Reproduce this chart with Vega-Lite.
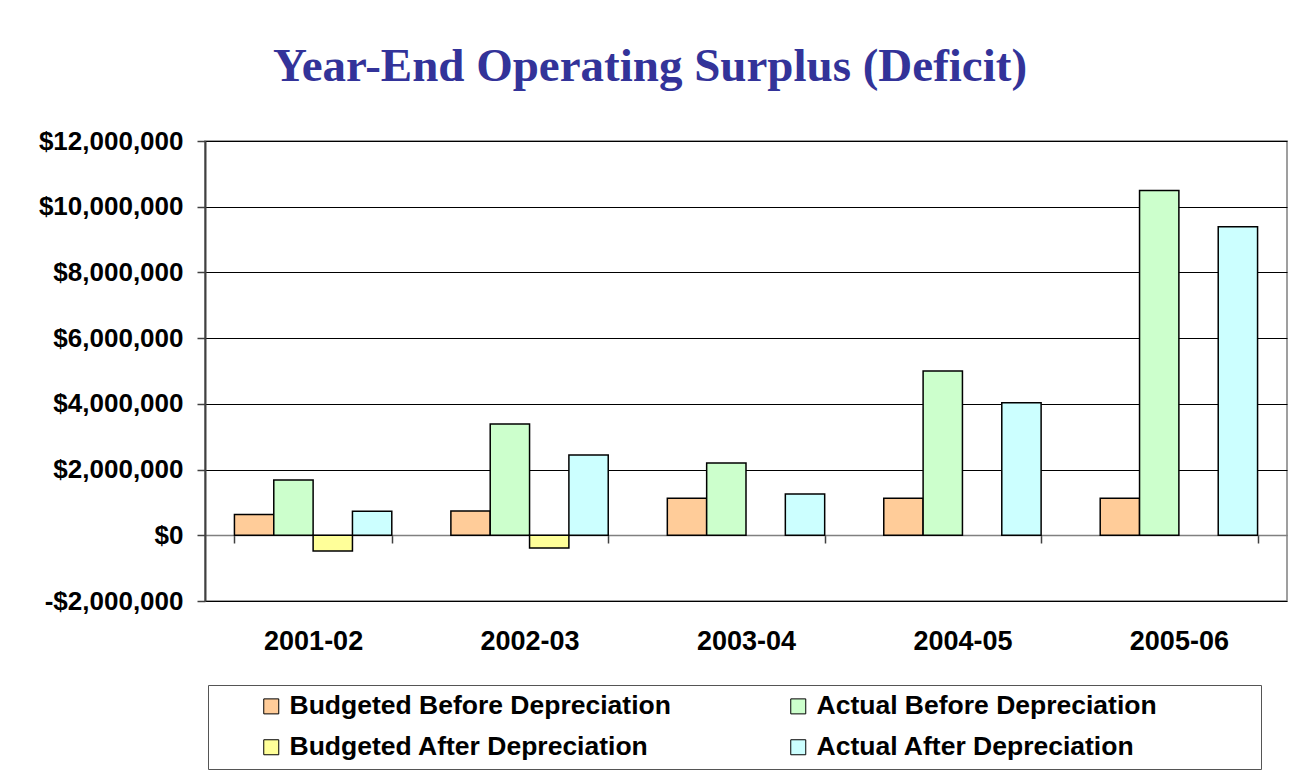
{
  "$schema": "https://vega.github.io/schema/vega-lite/v6.json",
  "width": 1082,
  "height": 460,
  "autosize": {"type": "none"},
  "padding": {"left": 205, "top": 141, "right": 2, "bottom": 180},
  "background": "white",
  "title": {
    "text": "Year-End Operating Surplus (Deficit)",
    "font": "Liberation Serif",
    "fontSize": 47,
    "fontWeight": "bold",
    "color": "#333399",
    "anchor": "middle",
    "frame": "group",
    "dx": -96,
    "offset": 0,
    "baseline": "alphabetic"
  },
  "data": {
    "values": [
      {"year": "2001-02", "series": "Budgeted Before Depreciation", "value": 630000},
      {"year": "2001-02", "series": "Actual Before Depreciation", "value": 1680000},
      {"year": "2001-02", "series": "Budgeted After Depreciation", "value": -480000},
      {"year": "2001-02", "series": "Actual After Depreciation", "value": 730000},
      {"year": "2002-03", "series": "Budgeted Before Depreciation", "value": 740000},
      {"year": "2002-03", "series": "Actual Before Depreciation", "value": 3390000},
      {"year": "2002-03", "series": "Budgeted After Depreciation", "value": -390000},
      {"year": "2002-03", "series": "Actual After Depreciation", "value": 2440000},
      {"year": "2003-04", "series": "Budgeted Before Depreciation", "value": 1130000},
      {"year": "2003-04", "series": "Actual Before Depreciation", "value": 2200000},
      {"year": "2003-04", "series": "Budgeted After Depreciation", "value": null},
      {"year": "2003-04", "series": "Actual After Depreciation", "value": 1260000},
      {"year": "2004-05", "series": "Budgeted Before Depreciation", "value": 1130000},
      {"year": "2004-05", "series": "Actual Before Depreciation", "value": 5000000},
      {"year": "2004-05", "series": "Budgeted After Depreciation", "value": null},
      {"year": "2004-05", "series": "Actual After Depreciation", "value": 4030000},
      {"year": "2005-06", "series": "Budgeted Before Depreciation", "value": 1130000},
      {"year": "2005-06", "series": "Actual Before Depreciation", "value": 10490000},
      {"year": "2005-06", "series": "Budgeted After Depreciation", "value": null},
      {"year": "2005-06", "series": "Actual After Depreciation", "value": 9390000}
    ]
  },
  "mark": {"type": "bar", "stroke": "black", "strokeWidth": 1.5},
  "encoding": {
    "x": {
      "field": "year",
      "type": "nominal",
      "scale": {"paddingInner": 0.273, "paddingOuter": 0.136},
      "axis": {
        "title": null,
        "labelAngle": 0,
        "offset": -66,
        "domainColor": "#808080",
        "domainWidth": 1.5,
        "tickColor": "#404040",
        "tickWidth": 1.5,
        "tickSize": 8,
        "tickBand": "extent",
        "labelPadding": 85,
        "labelFont": "Liberation Sans",
        "labelFontSize": 27,
        "labelFontWeight": "bold",
        "labelColor": "black",
        "grid": false
      }
    },
    "xOffset": {
      "field": "series",
      "type": "nominal",
      "sort": ["Budgeted Before Depreciation", "Actual Before Depreciation", "Budgeted After Depreciation", "Actual After Depreciation"],
      "scale": {"paddingInner": 0, "paddingOuter": 0}
    },
    "y": {
      "field": "value",
      "type": "quantitative",
      "scale": {"domain": [-2000000, 12000000], "nice": false, "zero": false},
      "axis": {
        "title": null,
        "values": [-2000000, 0, 2000000, 4000000, 6000000, 8000000, 10000000, 12000000],
        "labelExpr": "datum.value < 0 ? '-$' + format(-datum.value, ',') : '$' + format(datum.value, ',')",
        "labelFont": "Liberation Sans",
        "labelFontSize": 26,
        "labelFontWeight": "bold",
        "labelColor": "black",
        "labelPadding": 14,
        "tickSize": 8,
        "tickColor": "#404040",
        "tickWidth": 1.5,
        "domainColor": "#404040",
        "domainWidth": 2,
        "grid": true,
        "gridColor": {"condition": {"test": "datum.value === 0", "value": "#808080"}, "value": "black"},
        "gridWidth": 1,
        "gridOpacity": 1
      }
    },
    "color": {
      "field": "series",
      "type": "nominal",
      "scale": {
        "domain": ["Budgeted Before Depreciation", "Budgeted After Depreciation", "Actual Before Depreciation", "Actual After Depreciation"],
        "range": ["#FFCC99", "#FFFF99", "#CCFFCC", "#CCFFFF"]
      },
      "legend": {
        "title": null,
        "orient": "none",
        "legendX": 3,
        "legendY": 544,
        "columns": 2,
        "padding": 8,
        "symbolOffset": 42,
        "columnPadding": 72,
        "rowPadding": 14,
        "symbolType": "square",
        "symbolSize": 225,
        "symbolStrokeColor": "black",
        "symbolStrokeWidth": 1,
        "symbolOpacity": 1,
        "labelFont": "Liberation Sans",
        "labelFontSize": 26.5,
        "labelFontWeight": "bold",
        "labelColor": "black",
        "labelOffset": 5,
        "labelLimit": 0,
        "labelExpr": "indexof(datum.label, 'Actual') == 0 ? datum.label + '\u00a0\u00a0\u00a0\u00a0\u00a0\u00a0\u00a0\u00a0\u00a0\u00a0\u00a0\u00a0\u00a0\u200d' : datum.label",
        "strokeColor": "#555555",
        "fillColor": "white"
      }
    }
  },
  "config": {"view": {"stroke": "#808080", "strokeWidth": 1.5}}
}
